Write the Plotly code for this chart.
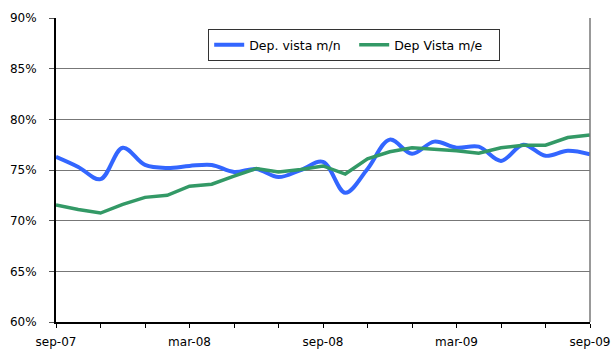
import plotly.graph_objects as go

# Monthly series, Sep-2007 to Sep-2009
months = ["sep-07", "oct-07", "nov-07", "dic-07", "ene-08", "feb-08", "mar-08",
          "abr-08", "may-08", "jun-08", "jul-08", "ago-08", "sep-08", "oct-08",
          "nov-08", "dic-08", "ene-09", "feb-09", "mar-09", "abr-09", "may-09",
          "jun-09", "jul-09", "ago-09", "sep-09"]

dep_vista_mn = [76.3, 75.3, 74.1, 77.2, 75.5, 75.2, 75.4, 75.5, 74.8, 75.1,
                74.3, 75.0, 75.8, 72.75, 75.1, 78.0, 76.6, 77.8, 77.2, 77.3,
                75.9, 77.5, 76.4, 76.9, 76.55]

dep_vista_me = [71.55, 71.1, 70.75, 71.6, 72.3, 72.5, 73.4, 73.6, 74.4, 75.15,
                74.8, 75.05, 75.4, 74.6, 76.1, 76.8, 77.2, 77.05, 76.9, 76.65,
                77.2, 77.45, 77.45, 78.2, 78.45]

x = list(range(len(months)))

# Ticks every two months, labels every six months
tick_vals = x[::2]
tick_text = [months[i] if i % 6 == 0 else "" for i in tick_vals]
y_ticks = [60, 65, 70, 75, 80, 85, 90]
y_tick_text = [f"{v}%" for v in y_ticks]

font_family = "DejaVu Sans, Liberation Sans, Arial, sans-serif"

fig = go.Figure()
fig.add_trace(go.Scatter(
    x=x, y=dep_vista_mn, name="Dep. vista m/n", mode="lines",
    line=dict(color="#3366FF", width=4, shape="spline", smoothing=1.0),
))
fig.add_trace(go.Scatter(
    x=x, y=dep_vista_me, name="Dep Vista m/e", mode="lines",
    line=dict(color="#339966", width=3.5),
))

fig.update_layout(
    width=616, height=349,
    margin=dict(l=56, r=26, t=18, b=27),
    paper_bgcolor="white", plot_bgcolor="white",
    font=dict(family=font_family, size=12, color="black"),
    showlegend=True,
    legend=dict(
        orientation="h", x=0.285, y=0.963, xanchor="left", yanchor="top",
        bgcolor="white", bordercolor="#333333", borderwidth=1,
        font=dict(size=12.5), itemwidth=30,
        entrywidth=100, entrywidthmode="pixels",
        tracegroupgap=0,
    ),
    xaxis=dict(
        range=[0, len(months) - 1], tickmode="array",
        tickvals=tick_vals, ticktext=tick_text,
        ticks="outside", ticklen=4, tickcolor="black", tickwidth=1,
        ticklabelstandoff=4, automargin=False,
        showgrid=False, zeroline=False,
        showline=True, linecolor="black", linewidth=2,
    ),
    yaxis=dict(
        range=[60, 90], tickmode="array", tickvals=y_ticks, ticktext=y_tick_text,
        ticks="outside", ticklen=5, tickcolor="#555555",
        ticklabelstandoff=10, automargin=False,
        showgrid=True, gridcolor="#777777", gridwidth=1,
        zeroline=False, showline=True, linecolor="black", linewidth=2,
    ),
    shapes=[dict(type="line", xref="paper", yref="paper", x0=1, x1=1, y0=0, y1=1,
                 line=dict(color="#777777", width=1.5))],
)

fig.write_html("out.html")
